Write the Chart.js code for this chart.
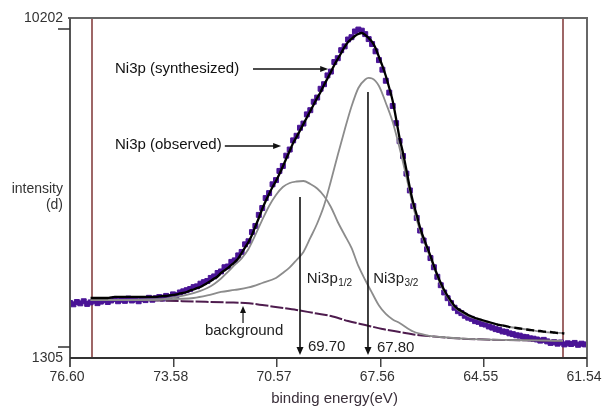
<!DOCTYPE html>
<html><head><meta charset="utf-8">
<script src="https://cdn.jsdelivr.net/npm/chart.js@4.4.1/dist/chart.umd.min.js"></script>
<style>html,body{margin:0;padding:0;background:#fff;}</style>
</head><body>
<canvas id="c" width="602" height="409" style="display:block;width:602px;height:409px"></canvas>
<script>
// ---- data ----
const obsE = [
76.6,76.5,76.4,76.3,76.2,76.1,76.0,75.9,75.8,75.7,
75.6,75.5,75.4,75.3,75.2,75.1,75.0,74.9,74.8,74.7,
74.6,74.5,74.4,74.3,74.2,74.1,74.0,73.9,73.8,73.7,
73.6,73.5,73.4,73.3,73.2,73.1,73.0,72.9,72.8,72.7,
72.6,72.5,72.4,72.3,72.2,72.1,72.0,71.9,71.8,71.7,
71.6,71.5,71.4,71.3,71.2,71.1,71.0,70.9,70.8,70.7,
70.6,70.5,70.4,70.3,70.2,70.1,70.0,69.9,69.8,69.7,
69.6,69.5,69.4,69.3,69.2,69.1,69.0,68.9,68.8,68.7,
68.6,68.5,68.4,68.3,68.2,68.1,68.0,67.9,67.8,67.7,
67.6,67.5,67.4,67.3,67.2,67.1,67.0,66.9,66.8,66.7,
66.6,66.5,66.4,66.3,66.2,66.1,66.0,65.9,65.8,65.7,
65.6,65.5,65.4,65.3,65.2,65.1,65.0,64.9,64.8,64.7,
64.6,64.5,64.4,64.3,64.2,64.1,64.0,63.9,63.8,63.7,
63.6,63.5,63.4,63.3,63.2,63.1,63.0,62.9,62.8,62.7,
62.6,62.5,62.4,62.3,62.2,62.1,62.0,61.9,61.8,61.7,
61.6];
const obsI = [
2745,2710,2770,2735,2790,2720,2760,2800,2740,2780,
2820,2770,2810,2850,2790,2830,2800,2860,2810,2840,
2790,2850,2820,2880,2830,2870,2900,2860,2930,2900,
2970,2950,3020,3050,3080,3110,3160,3180,3250,3290,
3320,3400,3440,3530,3570,3680,3700,3820,3860,3990,
4080,4280,4360,4600,4760,5050,5230,5490,5620,5850,
5960,6200,6330,6600,6760,7000,7120,7330,7440,7680,
7790,8010,8120,8350,8470,8700,8800,9050,9150,9360,
9460,9640,9700,9850,9900,9870,9780,9650,9520,9330,
9100,8850,8560,8250,7900,7450,6980,6590,6130,5690,
5280,4970,4640,4380,4150,3920,3680,3430,3210,3020,
2870,2740,2620,2530,2480,2410,2360,2330,2270,2250,
2200,2180,2130,2100,2060,2040,2000,1990,1950,1930,
1900,1890,1860,1850,1820,1810,1790,1760,1780,1740,
1700,1720,1680,1710,1660,1690,1670,1700,1650,1680,
1660];

const synE = [
76.0,75.9,75.8,75.7,75.6,75.5,75.4,75.3,75.2,75.1,
75.0,74.9,74.8,74.7,74.6,74.5,74.4,74.3,74.2,74.1,
74.0,73.9,73.8,73.7,73.6,73.5,73.4,73.3,73.2,73.1,
73.0,72.9,72.8,72.7,72.6,72.5,72.4,72.3,72.2,72.1,
72.0,71.9,71.8,71.7,71.6,71.5,71.4,71.3,71.2,71.1,
71.0,70.9,70.8,70.7,70.6,70.5,70.4,70.3,70.2,70.1,
70.0,69.9,69.8,69.7,69.6,69.5,69.4,69.3,69.2,69.1,
69.0,68.9,68.8,68.7,68.6,68.5,68.4,68.3,68.2,68.1,
68.0,67.9,67.8,67.7,67.6,67.5,67.4,67.3,67.2,67.1,
67.0,66.9,66.8,66.7,66.6,66.5,66.4,66.3,66.2,66.1,
66.0,65.9,65.8,65.7,65.6,65.5,65.4,65.3,65.2,65.1,
65.0,64.9,64.8,64.7,64.6,64.5,64.4,64.3,64.2,64.1,
64.0,63.9,63.8,63.7,63.6,63.5,63.4,63.3,63.2,63.1,
63.0,62.9,62.8,62.7,62.6,62.5,62.4,62.3,62.2];
const synI = [
2875,2875,2875,2875,2875,2875,2889,2902,2902,2902,
2902,2902,2902,2902,2902,2902,2902,2902,2902,2902,
2915,2928,2928,2941,2954,2967,2993,3006,3033,3072,
3098,3137,3163,3216,3268,3320,3386,3438,3530,3595,
3661,3739,3818,3909,4053,4197,4341,4524,4747,4969,
5205,5414,5597,5780,5937,6121,6317,6526,6722,6932,
7089,7259,7429,7599,7769,7939,8109,8266,8450,8620,
8790,8973,9130,9287,9444,9575,9653,9732,9784,9810,
9758,9679,9575,9418,9182,8947,8685,8371,8031,7560,
7063,6670,6225,5754,5362,5048,4707,4446,4210,3974,
3713,3477,3268,3085,2928,2797,2666,2587,2535,2483,
2430,2391,2352,2325,2299,2273,2247,2221,2195,2169,
2156,2142,2116,2103,2090,2077,2064,2051,2038,2025,
2011,2011,1998,1985,1985,1972,1959,1959,1946];

const p12E = [76.0,75.0,74.0,73.6,73.2,72.8,72.6,72.4,72.2,72.0,71.8,71.6,71.4,71.2,71.0,70.8,70.6,70.4,70.2,70.0,69.8,69.6,69.4,69.2,69.0,68.8,68.6,68.4,68.2,68.0,67.8,67.6,67.4,67.2,67.0,66.6,66.2,65.8,65.0,64.0,63.0,62.24];
const p12I = [2823,2823,2836,2889,2954,3059,3137,3242,3386,3556,3739,3914,4158,4524,4917,5283,5571,5780,5885,5924,5937,5859,5741,5545,5257,4864,4524,4184,3713,3346,3006,2679,2457,2313,2221,1998,1900,1855,1805,1778,1765,1752];

const p32E = [76.0,75.0,74.0,73.0,72.6,72.2,71.8,71.4,71.0,70.6,70.4,70.2,70.0,69.8,69.6,69.4,69.2,69.0,68.8,68.6,68.4,68.2,68.0,67.9,67.8,67.6,67.4,67.2,67.0,66.8,66.6,66.4,66.2,66.0,65.8,65.6,65.4,65.2,65.0,64.6,64.2,63.8,63.4,63.0,62.6,62.24];
const p32I = [2823,2823,2836,2875,2941,3033,3085,3150,3268,3399,3530,3674,3870,4079,4446,4825,5294,5937,6618,7272,7887,8371,8593,8633,8620,8423,7979,7481,6801,6042,5257,4629,4158,3687,3216,2902,2640,2509,2404,2286,2195,2116,2064,2011,1972,1959];

const bgE = [76.0,75.0,74.0,73.0,72.0,71.5,71.0,70.5,70.0,69.5,69.0,68.5,68.0,67.5,67.0,66.5,66.0,65.5,65.0,64.5,64.0,63.0,62.24];
const bgI = [2823,2823,2810,2784,2758,2744,2692,2627,2562,2483,2405,2273,2169,2064,1985,1907,1867,1828,1802,1789,1776,1763,1750];

const markerE = [75.96, 62.24];
const xTicks = [76.60, 73.58, 70.57, 67.56, 64.55, 61.54];
const xTickLabels = ['76.60','73.58','70.57','67.56','64.55','61.54'];
const yTicks = [1305, 10202];
const yTickLabels = ['1305','10202'];

const FONT = "'Liberation Sans', Arial, sans-serif";
const pts = (E, I) => E.map((e, i) => ({x: e, y: I[i]}));

function arrow(ctx, x1, y1, x2, y2, hl, hw, lw) {
  const a = Math.atan2(y2 - y1, x2 - x1), c = Math.cos(a), s = Math.sin(a);
  ctx.lineWidth = lw;
  ctx.beginPath(); ctx.moveTo(x1, y1); ctx.lineTo(x2 - c * hl * 0.7, y2 - s * hl * 0.7); ctx.stroke();
  ctx.beginPath(); ctx.moveTo(x2, y2);
  ctx.lineTo(x2 - c * hl + s * hw, y2 - s * hl - c * hw);
  ctx.lineTo(x2 - c * hl - s * hw, y2 - s * hl + c * hw);
  ctx.closePath(); ctx.fill();
}

const decor = {
  id: 'decor',
  beforeDatasetsDraw(chart) {
    const {ctx, chartArea: a, scales: {x}} = chart;
    ctx.save();
    ctx.strokeStyle = '#864040'; ctx.lineWidth = 1.6;
    markerE.forEach(e => {
      const px = Math.round(x.getPixelForValue(e));
      ctx.beginPath(); ctx.moveTo(px, a.top); ctx.lineTo(px, a.bottom); ctx.stroke();
    });
    ctx.restore();
  },
  afterDraw(chart) {
    const {ctx, chartArea: a, scales: {x, y}} = chart;
    const X = e => x.getPixelForValue(e), Y = v => y.getPixelForValue(v);
    ctx.save();
    // frame
    ctx.lineWidth = 2;
    ctx.strokeStyle = '#676767';
    ctx.beginPath(); ctx.moveTo(a.left - 2, a.top); ctx.lineTo(a.right, a.top); ctx.lineTo(a.right, a.bottom + 9); ctx.stroke();
    ctx.strokeStyle = '#555';
    ctx.beginPath(); ctx.moveTo(a.left, a.top); ctx.lineTo(a.left, a.bottom + 9); ctx.stroke();
    ctx.strokeStyle = '#333';
    ctx.beginPath(); ctx.moveTo(a.left, a.bottom); ctx.lineTo(a.right, a.bottom); ctx.stroke();
    // small y tick marks
    ctx.lineWidth = 1.5;
    ctx.beginPath();
    ctx.moveTo(a.left - 12, a.top + 11); ctx.lineTo(a.left, a.top + 11);
    ctx.moveTo(a.left - 12, a.bottom - 11); ctx.lineTo(a.left, a.bottom - 11);
    ctx.stroke();
    // axis titles
    ctx.fillStyle = '#333';
    ctx.font = '14px ' + FONT;
    ctx.textAlign = 'right'; ctx.textBaseline = 'middle';
    ctx.fillText('intensity', a.left - 7, 189);
    ctx.fillText('(d)', a.left - 7, 205);
    ctx.textAlign = 'center';
    ctx.font = '15px ' + FONT;
    ctx.fillStyle = '#3a2f3a';
    ctx.fillText('binding energy(eV)', (a.left + a.right) / 2 + 6, 399);

    // annotations
    ctx.fillStyle = '#111'; ctx.strokeStyle = '#111';
    ctx.font = '15px ' + FONT; ctx.textAlign = 'left';
    ctx.fillText('Ni3p (synthesized)', X(75.29), Y(8868));
    arrow(ctx, X(71.27), Y(8868), X(69.08), Y(8868), 8, 3, 1.3);
    ctx.fillText('Ni3p (observed)', X(75.29), Y(6879));
    arrow(ctx, X(72.09), Y(6853), X(70.45), Y(6853), 8, 3, 1.3);
    arrow(ctx, X(69.90), Y(5519), X(69.90), Y(1384), 8, 3.5, 1.6);
    arrow(ctx, X(67.92), Y(8266), X(67.92), Y(1384), 8, 3.5, 1.6);
    arrow(ctx, X(71.56), Y(2221), X(71.56), Y(2666), 7, 3, 1.2);

    ctx.fillStyle = '#222';
    const sub = (main, s, px, py) => {
      ctx.font = '15px ' + FONT; ctx.fillText(main, px, py);
      const w = ctx.measureText(main).width;
      ctx.font = '10px ' + FONT; ctx.fillText(s, px + w + 0.5, py + 4);
    };
    sub('Ni3p', '1/2', X(69.70), Y(3373));
    sub('Ni3p', '3/2', X(67.77), Y(3373));
    ctx.font = '15px ' + FONT;
    ctx.fillText('69.70', X(69.67), Y(1593));
    ctx.fillText('67.80', X(67.66), Y(1567));
    ctx.fillText('background', X(72.67), Y(2012));
    ctx.restore();
  }
};

new Chart(document.getElementById('c'), {
  type: 'scatter',
  data: {
    datasets: [
      { label: 'Ni3p (synthesized)', data: pts(synE, synI), showLine: true, order: 0,
        borderColor: '#000', borderWidth: 2.3, pointRadius: 0, cubicInterpolationMode: 'monotone',
        segment: { borderDash: c => (c.p0.parsed.x < 64.05 ? [8, 4] : undefined) } },
      { label: 'Ni3p1/2', data: pts(p12E, p12I), showLine: true, order: 1,
        borderColor: '#8c8c8c', borderWidth: 1.8, pointRadius: 0, cubicInterpolationMode: 'monotone' },
      { label: 'Ni3p3/2', data: pts(p32E, p32I), showLine: true, order: 1,
        borderColor: '#8c8c8c', borderWidth: 1.8, pointRadius: 0, cubicInterpolationMode: 'monotone' },
      { label: 'background', data: pts(bgE, bgI), showLine: true, order: 2,
        borderColor: '#4e1c4e', borderWidth: 2, borderDash: [13, 2], pointRadius: 0, cubicInterpolationMode: 'monotone' },
      { label: 'Ni3p (observed)', data: pts(obsE, obsI), showLine: false, order: 3,
        pointStyle: 'rect', pointRadius: 3.5, pointBorderWidth: 1,
        backgroundColor: '#4a1496', borderColor: '#4a1496' }
    ]
  },
  options: {
    responsive: false, animation: false, devicePixelRatio: 1,
    layout: { padding: { left: 0, right: 15, top: 18, bottom: 0 } },
    plugins: { legend: { display: false }, tooltip: { enabled: false } },
    scales: {
      x: {
        type: 'linear', reverse: true, min: 61.54, max: 76.60,
        afterBuildTicks: s => { s.ticks = xTicks.map(v => ({ value: v })); },
        afterFit: s => { s.height = 51; s.paddingLeft = 0; s.paddingRight = 0; },
        ticks: { autoSkip: false, maxRotation: 0, padding: 2, labelOffset: -3, color: '#333',
                 font: { family: FONT, size: 14 }, callback: (v, i) => xTickLabels[i] },
        grid: { drawOnChartArea: false, drawTicks: true, tickLength: 9, color: '#444', lineWidth: 1.5 },
        border: { display: false }
      },
      y: {
        min: 1305, max: 10202,
        afterBuildTicks: s => { s.ticks = yTicks.map(v => ({ value: v })); },
        afterFit: s => { s.width = 70; },
        ticks: { padding: 7, color: '#333', font: { family: FONT, size: 14 }, callback: (v, i) => yTickLabels[i] },
        grid: { display: false, drawTicks: false },
        border: { display: false }
      }
    }
  },
  plugins: [decor]
});
</script>
</body></html>
